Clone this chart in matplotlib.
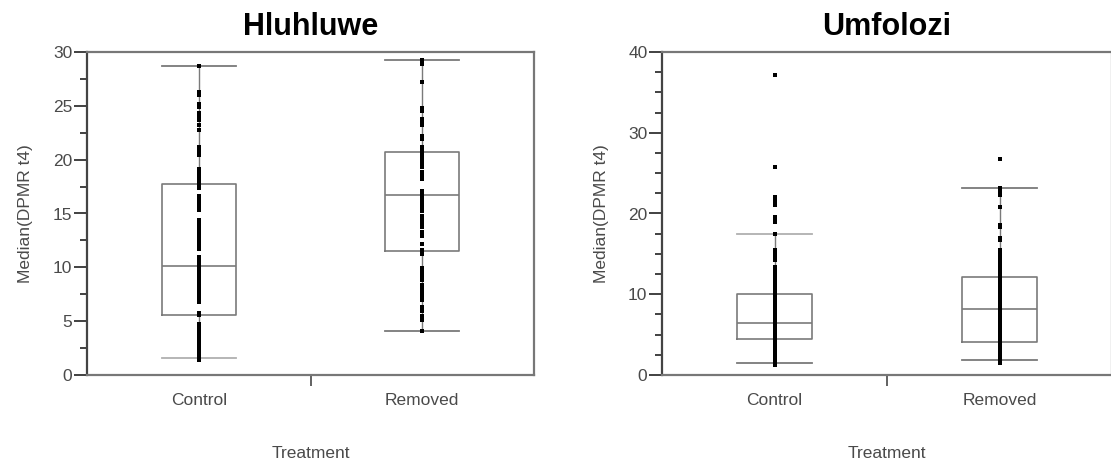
import matplotlib.pyplot as plt
from matplotlib.ticker import MultipleLocator, FixedLocator

plt.rcParams['font.family'] = ['Liberation Sans', 'DejaVu Sans']

# Data
groups = ["Control", "Removed"]

# Hluhluwe: box stats (whisker low, Q1, median, Q3, whisker high)
hl_stats = [[1.6, 5.6, 10.1, 17.7, 28.7],
            [4.1, 11.5, 16.7, 20.7, 29.3]]
hl_control = [28.7, 26.3, 26.0, 25.2, 24.9, 24.3, 24.0, 23.7, 23.2, 22.8,
              21.2, 21.0, 20.7, 20.4, 19.1, 18.9, 18.6, 18.3, 18.1, 17.7,
              17.4, 16.6, 16.3, 15.9, 15.6, 15.3, 14.4, 14.1, 13.8, 13.5,
              13.2, 12.9, 12.6, 12.3, 12.0, 11.7, 11.0, 10.7, 10.4, 10.1,
              9.8, 9.5, 9.2, 8.9, 8.6, 8.3, 8.0, 7.7, 7.4, 7.1, 6.8, 5.8,
              5.6, 4.7, 4.4, 4.0, 3.7, 3.4, 3.1, 2.8, 2.5, 2.2, 1.9, 1.6, 1.4]
hl_removed = [29.3, 29.1, 28.9, 27.2, 24.8, 24.5, 23.8, 23.5, 23.2, 22.2,
              21.9, 21.2, 20.9, 20.6, 20.3, 20.0, 19.6, 19.3, 18.9, 18.5,
              18.2, 17.1, 16.8, 16.5, 16.2, 15.9, 15.6, 15.2, 14.8, 14.4,
              14.0, 13.7, 13.3, 12.9, 12.2, 11.6, 11.2, 9.9, 9.6, 9.2, 8.8,
              8.4, 8.0, 7.6, 7.3, 7.0, 6.3, 5.9, 5.5, 5.1, 4.1]

# Umfolozi
um_stats = [[1.5, 4.4, 6.4, 10.0, 17.4],
            [1.8, 4.1, 8.2, 12.1, 23.2]]
um_control = [37.2, 25.7, 22.1, 21.8, 21.4, 21.1, 19.6, 19.3, 19.0, 17.4,
              15.5, 15.1, 14.7, 14.3, 13.4, 13.1, 12.8, 12.5, 12.2, 11.9,
              11.6, 11.3, 11.0, 10.7, 10.4, 10.1, 9.8, 9.5, 9.2, 8.9, 8.6,
              8.3, 8.0, 7.7, 7.4, 7.1, 6.8, 6.5, 6.2, 5.9, 5.6, 5.3, 5.0,
              4.7, 4.4, 4.1, 3.8, 3.5, 3.2, 2.9, 2.6, 2.3, 2.0, 1.7, 1.4, 1.2]
um_removed = [26.8, 23.1, 22.8, 22.3, 20.8, 18.6, 18.3, 17.0, 16.7, 15.5,
              15.2, 14.9, 14.6, 14.3, 14.0, 13.7, 13.4, 13.1, 12.8, 12.5,
              12.2, 11.9, 11.6, 11.3, 11.0, 10.7, 10.4, 10.1, 9.8, 9.5, 9.2,
              8.9, 8.6, 8.3, 8.0, 7.7, 7.4, 7.1, 6.8, 6.5, 6.2, 5.9, 5.6,
              5.3, 5.0, 4.7, 4.4, 4.1, 3.8, 3.5, 3.2, 2.9, 2.6, 2.3, 2.0,
              1.7, 1.5]

W, H = 1111, 469
fig = plt.figure(figsize=(W / 100, H / 100), dpi=100)

box_col = '#7a7a7a'
light_col = '#b0b0b0'
txt_col = '#4a4a4a'
fs = 12.5


def panel(rect, title, stats, points, ymax, ymajor, light_cap):
    ax = fig.add_axes([rect[0] / W, 1 - rect[3] / H,
                       (rect[2] - rect[0]) / W, (rect[3] - rect[1]) / H])
    bstats = []
    for lab, s in zip(groups, stats):
        bstats.append(dict(label=lab, whislo=s[0], q1=s[1], med=s[2],
                           q3=s[3], whishi=s[4], fliers=[]))
    parts = ax.bxp(bstats, positions=[1, 2], widths=0.33, showfliers=False,
                   boxprops=dict(color=box_col, lw=1.2),
                   medianprops=dict(color=box_col, lw=1.2),
                   whiskerprops=dict(color=box_col, lw=1.0),
                   capprops=dict(color=box_col, lw=1.3), capwidths=0.33)
    # one cap in each panel is drawn lighter in the original
    parts['caps'][light_cap].set_color(light_col)
    for i, pts in enumerate(points):
        ax.plot([i + 1] * len(pts), pts, ls='none', marker='s',
                ms=3.1, color='black', mew=0, zorder=5)
    ax.set_xlim(0.5, 2.5)
    ax.set_ylim(0, ymax)
    ax.yaxis.set_major_locator(MultipleLocator(ymajor))
    ax.yaxis.set_minor_locator(MultipleLocator(2.5))
    ax.tick_params(axis='y', which='major', length=9.5, width=1.3,
                   color='#333333', labelcolor=txt_col, labelsize=fs, pad=1)
    ax.tick_params(axis='y', which='minor', length=5, width=1.3,
                   color='#333333')
    ax.set_xticks([1, 2])
    ax.set_xticklabels(groups)
    ax.xaxis.set_minor_locator(FixedLocator([1.5]))
    ax.tick_params(axis='x', which='major', length=0, pad=13,
                   labelcolor=txt_col, labelsize=fs)
    ax.tick_params(axis='x', which='minor', length=8, width=1.3,
                   color='#555555')
    for side in ['left', 'bottom', 'top', 'right']:
        ax.spines[side].set_color('#777777')
        ax.spines[side].set_linewidth(1.6)
    ax.spines['left'].set_color('#444444')
    ax.set_title(title, fontsize=22, fontweight='bold', pad=12)
    ax.set_xlabel("Treatment", color=txt_col, fontsize=fs, labelpad=27)
    ax.set_ylabel("Median(DPMR t4)", color=txt_col, fontsize=fs,
                  labelpad=14)
    return ax


# caps order: control low, control high, removed low, removed high
panel((87, 52, 534, 375), "Hluhluwe", hl_stats, [hl_control, hl_removed],
      30, 5, 0)
panel((662, 52, 1112, 375), "Umfolozi", um_stats, [um_control, um_removed],
      40, 10, 1)

fig.savefig("out.png", dpi=100)
